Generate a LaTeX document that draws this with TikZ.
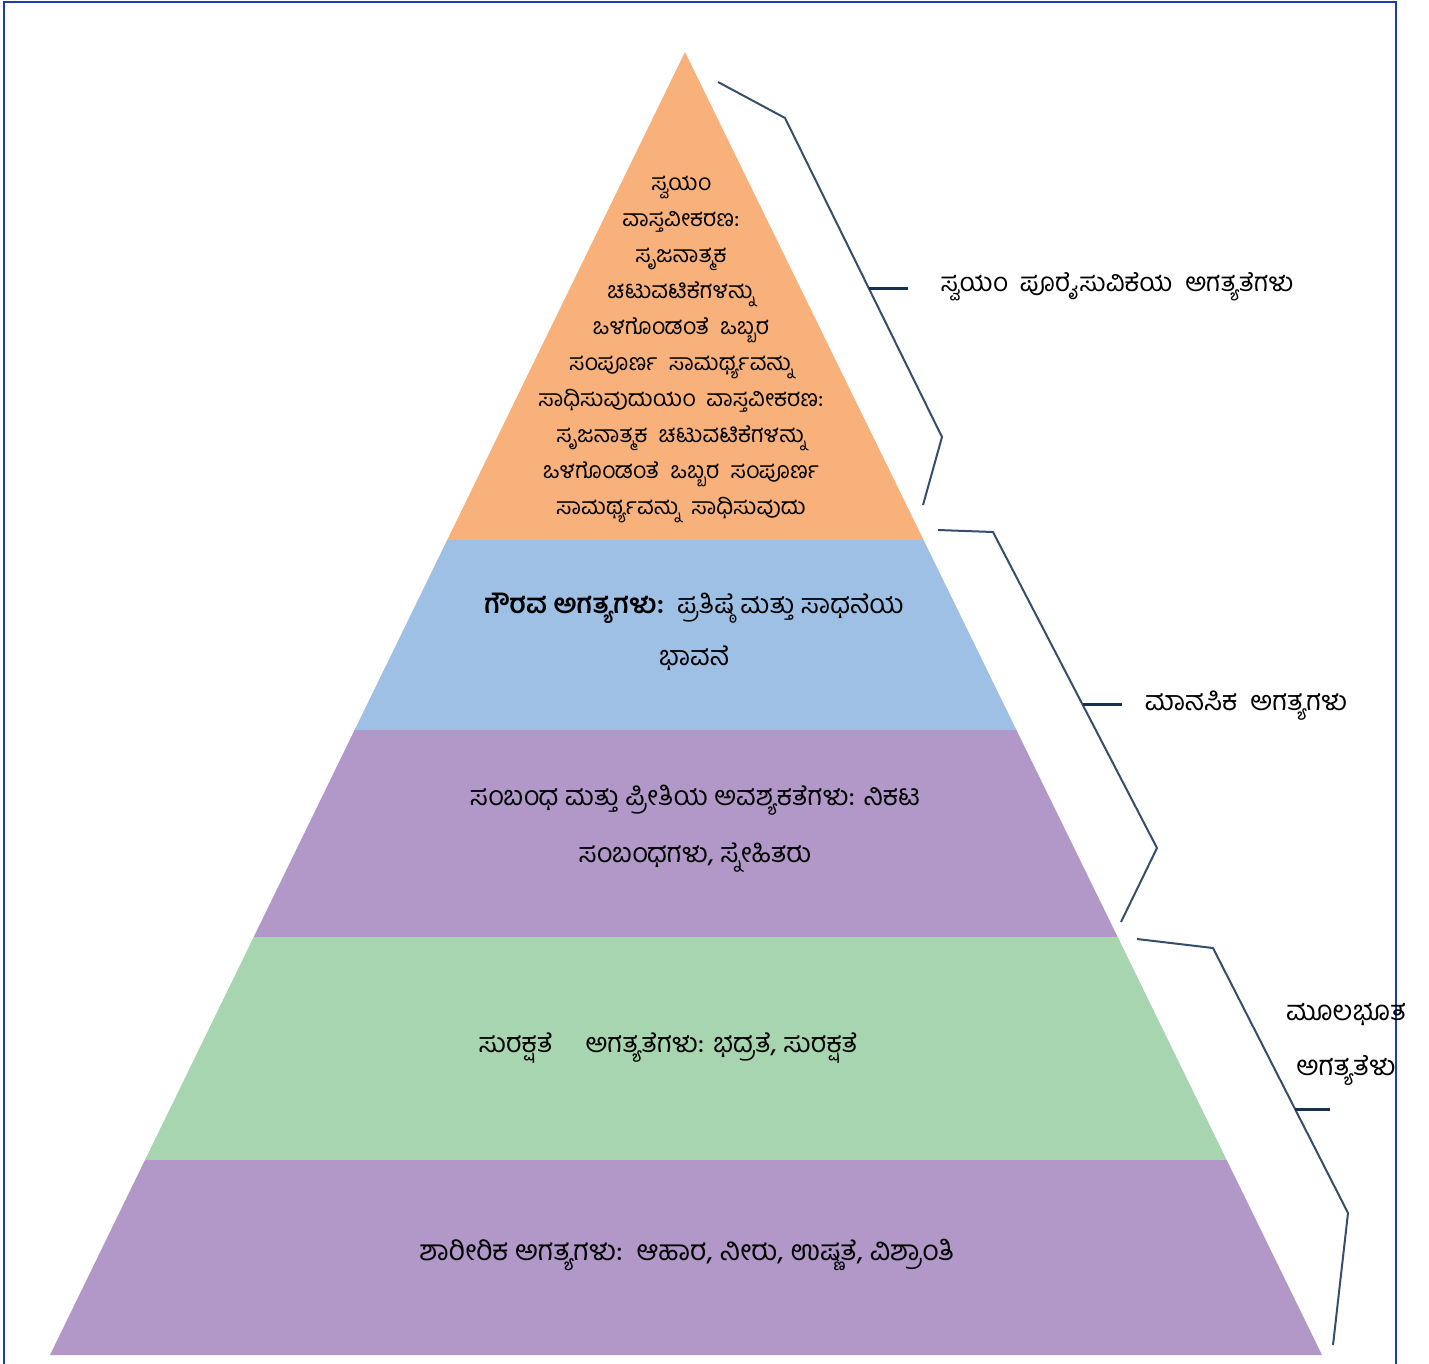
\documentclass[tikz,border=0pt]{standalone}
\usepackage{fontspec}
\newfontfamily\kn[Script=Kannada]{Hind Mysuru}
\usetikzlibrary{calc}
\definecolor{cOrange}{RGB}{249,177,123}
\definecolor{cBlue}{RGB}{157,192,228}
\definecolor{cPurple}{RGB}{177,152,200}
\definecolor{cGreen}{RGB}{166,213,175}
\definecolor{cBrace}{RGB}{52,78,108}
\definecolor{cTick}{RGB}{24,48,80}
\definecolor{cFrame}{RGB}{32,60,170}
\tikzset{
  lbl/.style={font=\kn\fontsize{27}{36}\selectfont, align=center, inner sep=0pt, text=black},
  bracepath/.style={draw=cBrace, line width=2pt, line join=miter},
  bracetick/.style={draw=cTick, line width=3pt},
}
\begin{document}
\begin{tikzpicture}[x=1pt,y=-1pt]
\useasboundingbox (0,0) rectangle (1429,1363);
% frame
\draw[cFrame, line width=2.5pt] (4,1370) -- (4,2) -- (1396,2) -- (1396,1370);
% pyramid layers
\coordinate (apex) at (685,52);
\fill[cOrange] (apex) -- (923.6,540) -- (447.2,540) -- cycle;
\fill[cBlue] (447.2,540) -- (923.6,540) -- (1016.4,730) -- (354.6,730) -- cycle;
\fill[cPurple] (354.6,730) -- (1016.4,730) -- (1117.7,937) -- (253.7,937) -- cycle;
\fill[cGreen] (253.7,937) -- (1117.7,937) -- (1226.7,1160) -- (145,1160) -- cycle;
\fill[cPurple] (145,1160) -- (1226.7,1160) -- (1322,1355) -- (50,1355) -- cycle;
% layer texts
\node[lbl, font=\kn\fontsize{23}{36}\selectfont] (t1) at (681,350) {ಸ್ವಯಂ\\ ವಾಸ್ತವೀಕರಣ:\\ ಸೃಜನಾತ್ಮಕ\\ ಚಟುವಟಿಕೆಗಳನ್ನು\\ ಒಳಗೊಂಡಂತೆ\ \ ಒಬ್ಬರ\\ ಸಂಪೂರ್ಣ\ \ ಸಾಮರ್ಥ್ಯವನ್ನು\\ ಸಾಧಿಸುವುದುಯಂ\ \ ವಾಸ್ತವೀಕರಣ:\\ ಸೃಜನಾತ್ಮಕ\ \ ಚಟುವಟಿಕೆಗಳನ್ನು\\ ಒಳಗೊಂಡಂತೆ\ \ ಒಬ್ಬರ\ \ ಸಂಪೂರ್ಣ\\ ಸಾಮರ್ಥ್ಯವನ್ನು\ \ ಸಾಧಿಸುವುದು};
\node[lbl, font=\kn\fontsize{27}{52}\selectfont] (t2) at (694,632) {\textbf{ಗೌರವ ಅಗತ್ಯಗಳು:}\ \ ಪ್ರತಿಷ್ಠೆ ಮತ್ತು ಸಾಧನೆಯ\\ ಭಾವನೆ};
\node[lbl, font=\kn\fontsize{27}{57}\selectfont] (t3) at (695,829) {ಸಂಬಂಧ ಮತ್ತು ಪ್ರೀತಿಯ ಅವಶ್ಯಕತೆಗಳು: ನಿಕಟ\\ ಸಂಬಂಧಗಳು, ಸ್ನೇಹಿತರು};
\node[lbl] (t4) at (668,1048) {ಸುರಕ್ಷತೆ\ \ \ \ \ ಅಗತ್ಯತೆಗಳು: ಭದ್ರತೆ, ಸುರಕ್ಷತೆ};
\node[lbl, font=\kn\fontsize{28.2}{36}\selectfont] (t5) at (687,1255) {ಶಾರೀರಿಕ ಅಗತ್ಯಗಳು:\ \ ಆಹಾರ, ನೀರು, ಉಷ್ಣತೆ, ವಿಶ್ರಾಂತಿ};
% brace 1
\coordinate (b1a) at (718,82);
\coordinate (b1b) at (785,118);
\coordinate (b1c) at (942,437);
\coordinate (b1d) at (923,505);
\coordinate (b1m) at (868.5,288);
\coordinate (b1t) at (908,288);
\draw[bracepath] (b1a) -- (b1b) -- (b1c) -- (b1d);
\draw[bracetick] (b1m) -- (b1t);
\node[lbl, font=\kn\fontsize{26}{36}\selectfont] (l1) at (1117,287) {ಸ್ವಯಂ\ \ ಪೂರೈಸುವಿಕೆಯ\ \ ಅಗತ್ಯತೆಗಳು};
% brace 2
\coordinate (b2a) at (938,530);
\coordinate (b2b) at (993,532);
\coordinate (b2c) at (1157,848);
\coordinate (b2d) at (1121,922);
\coordinate (b2m) at (1083,704);
\coordinate (b2t) at (1122,704);
\draw[bracepath] (b2a) -- (b2b) -- (b2c) -- (b2d);
\draw[bracetick] (b2m) -- (b2t);
\node[lbl] (l2) at (1246,706) {ಮಾನಸಿಕ\ \ ಅಗತ್ಯಗಳು};
% brace 3
\coordinate (b3a) at (1137,939);
\coordinate (b3b) at (1213,948);
\coordinate (b3c) at (1348,1213);
\coordinate (b3d) at (1333,1345);
\coordinate (b3m) at (1295,1109);
\coordinate (b3t) at (1330,1109);
\draw[bracepath] (b3a) -- (b3b) -- (b3c) -- (b3d);
\draw[bracetick] (b3m) -- (b3t);
\node[lbl, font=\kn\fontsize{27.5}{55}\selectfont] (l3) at (1346,1044) {ಮೂಲಭೂತ\\ ಅಗತ್ಯತೆಳು};
\end{tikzpicture}
\end{document}
